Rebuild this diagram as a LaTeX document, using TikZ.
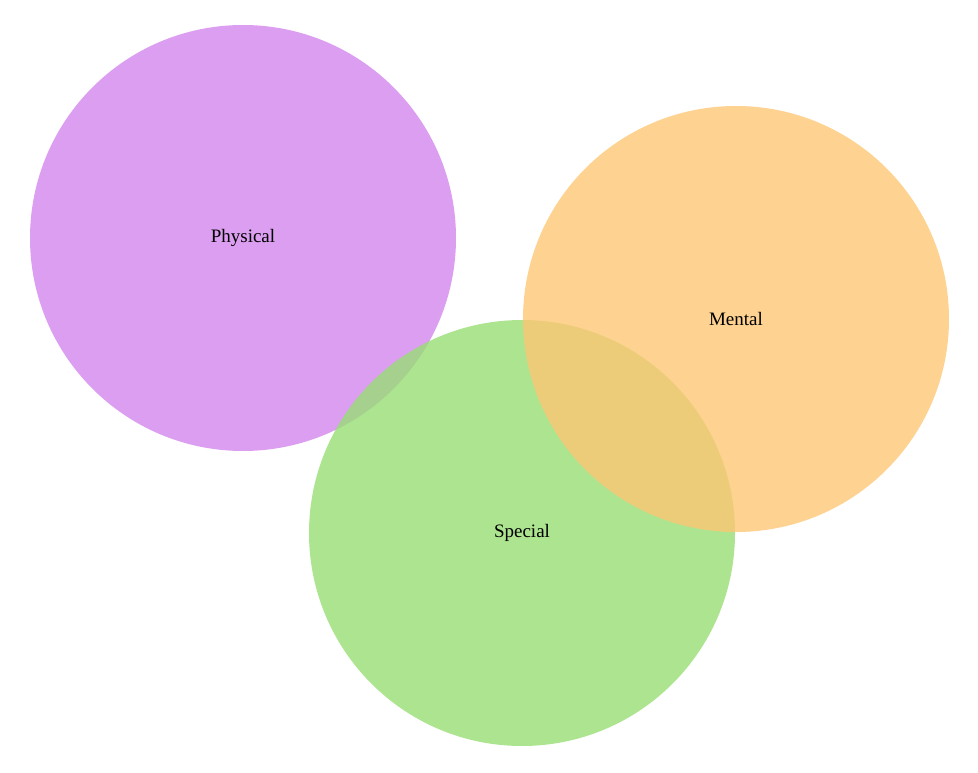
\documentclass[tikz,border=0pt]{standalone}
\usepackage{fontspec}
\setmainfont{Liberation Serif}
\begin{document}
\begin{tikzpicture}[x=1pt,y=-1pt,
  venn/.style={circle,minimum size=426pt,inner sep=0pt,fill opacity=0.8,text opacity=1,font=\fontsize{19}{22}\selectfont}]
\definecolor{cp}{RGB}{211,134,236}
\definecolor{cg}{RGB}{151,221,116}
\definecolor{co}{RGB}{254,199,116}
\useasboundingbox (0,0) rectangle (978,773);
\node[venn,fill=cp] (phys) at (243,238) {Physical};
\node[venn,fill=cg] (spec) at (522,533) {Special};
\node[venn,fill=co] (ment) at (736,319) {Mental};
\end{tikzpicture}
\end{document}
